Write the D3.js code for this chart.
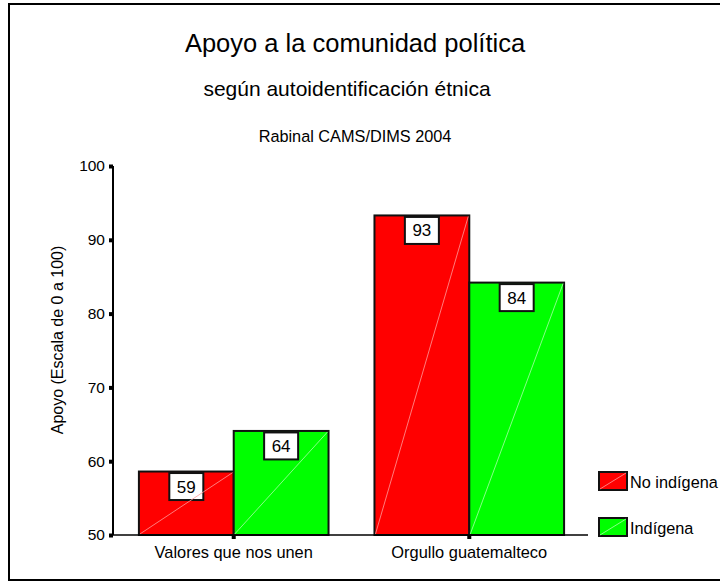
<!DOCTYPE html>
<html><head><meta charset="utf-8">
<script src="https://cdn.jsdelivr.net/npm/d3@7"></script>
<style>body{margin:0;background:#fff}svg{display:block}text{font-family:"Liberation Sans",Arial,sans-serif;fill:#000}</style>
</head><body>
<script>
const categories = ["Valores que nos unen", "Orgullo guatemalteco"];
const seriesNames = ["No indígena", "Indígena"];
const seriesColors = ["#ff0000", "#00ff00"];
const diagColors = ["#ff9a9a", "#a8ffa8"];
const noIndigena = [58.6, 93.3];
const indigena = [64.1, 84.2];
const valueLabels = [["59", "93"], ["64", "84"]];
const yTicks = [50, 60, 70, 80, 90, 100];

const W = 720, H = 583;
const svg = d3.select("body").append("svg").attr("width", W).attr("height", H);

svg.append("rect").attr("x", 9).attr("y", 4).attr("width", 720).attr("height", 576)
  .attr("fill", "#fff").attr("stroke", "#000").attr("stroke-width", 2);

svg.append("text").attr("x", 355).attr("y", 52).attr("text-anchor", "middle")
  .attr("font-size", 25.5).text("Apoyo a la comunidad política");
svg.append("text").attr("x", 347).attr("y", 96).attr("text-anchor", "middle")
  .attr("font-size", 21).text("según autoidentificación étnica");
svg.append("text").attr("x", 355).attr("y", 142).attr("text-anchor", "middle")
  .attr("font-size", 16.3).text("Rabinal CAMS/DIMS 2004");

const y = d3.scaleLinear().domain([50, 100]).range([535, 166]);
const x0 = d3.scaleBand().domain(categories).range([113, 590]).paddingInner(0.195).paddingOuter(0.11);
const x1 = d3.scaleBand().domain(seriesNames).range([0, x0.bandwidth()]);

const data = categories.map((c, i) => ({cat: c, vals: [noIndigena[i], indigena[i]]}));

// bars
data.forEach((d, i) => {
  d.vals.forEach((v, s) => {
    const bx = x0(d.cat) + x1(seriesNames[s]);
    const bw = x1.bandwidth();
    const top = y(v), bot = y(50);
    svg.append("rect").attr("x", bx).attr("y", top).attr("width", bw).attr("height", bot - top)
      .attr("fill", seriesColors[s]).attr("stroke", "#111").attr("stroke-width", 2);
    const cx = bx + bw / 2;
    const bxw = 34, bxh = 27;
    svg.append("rect").attr("x", cx - bxw / 2).attr("y", top + 1.5).attr("width", bxw).attr("height", bxh)
      .attr("fill", "#fff").attr("stroke", "#111").attr("stroke-width", 2);
    svg.append("line").attr("x1", bx + 1).attr("y1", bot - 1).attr("x2", bx + bw - 1).attr("y2", top + 1)
      .attr("stroke", diagColors[s]).attr("stroke-width", 0.8);
    svg.append("text").attr("x", cx).attr("y", top + 1.5 + bxh / 2 + 6).attr("text-anchor", "middle")
      .attr("font-size", 17).text(valueLabels[s][i]);
  });
});

// y axis
const yAxis = d3.axisLeft(y).tickValues(yTicks).tickSize(0).tickPadding(8);
const gy = svg.append("g").attr("transform", "translate(113,0)").call(yAxis);
gy.select(".domain").attr("stroke", "#000").attr("stroke-width", 2).attr("d", `M0,${y(100)}V${y(50)}`);
gy.selectAll("text").attr("font-size", 15.5).attr("font-family", '"Liberation Sans",Arial,sans-serif').attr("fill", "#000");
gy.selectAll(".tick").append("rect").attr("x", -4).attr("y", -2).attr("width", 4).attr("height", 4).attr("fill", "#000");

// x axis
svg.append("line").attr("x1", 112).attr("x2", 588).attr("y1", y(50)).attr("y2", y(50))
  .attr("stroke", "#000").attr("stroke-width", 1.5);
const xAxis = d3.axisBottom(x0).tickSize(0).tickPadding(11);
const gx = svg.append("g").attr("transform", `translate(0,${y(50)})`).call(xAxis);
gx.select(".domain").remove();
gx.selectAll("text").attr("font-size", 16.4).attr("font-family", '"Liberation Sans",Arial,sans-serif').attr("fill", "#000");
gx.selectAll(".tick").append("rect").attr("x", -2).attr("y", 0).attr("width", 4).attr("height", 4).attr("fill", "#000");

// y label
svg.append("text").attr("transform", "translate(63,340) rotate(-90)").attr("text-anchor", "middle")
  .attr("font-size", 16).text("Apoyo (Escala de 0 a 100)");

// legend
seriesNames.forEach((n, s) => {
  const ly = 472 + s * 46;
  svg.append("rect").attr("x", 599).attr("y", ly).attr("width", 28).attr("height", 18)
    .attr("fill", seriesColors[s]).attr("stroke", "#111").attr("stroke-width", 2);
  svg.append("line").attr("x1", 600).attr("y1", ly + 17).attr("x2", 626).attr("y2", ly + 1)
    .attr("stroke", diagColors[s]).attr("stroke-width", 0.8);
  svg.append("text").attr("x", 630).attr("y", ly + 16).attr("font-size", 16.3).text(n);
});
</script>
</body></html>
